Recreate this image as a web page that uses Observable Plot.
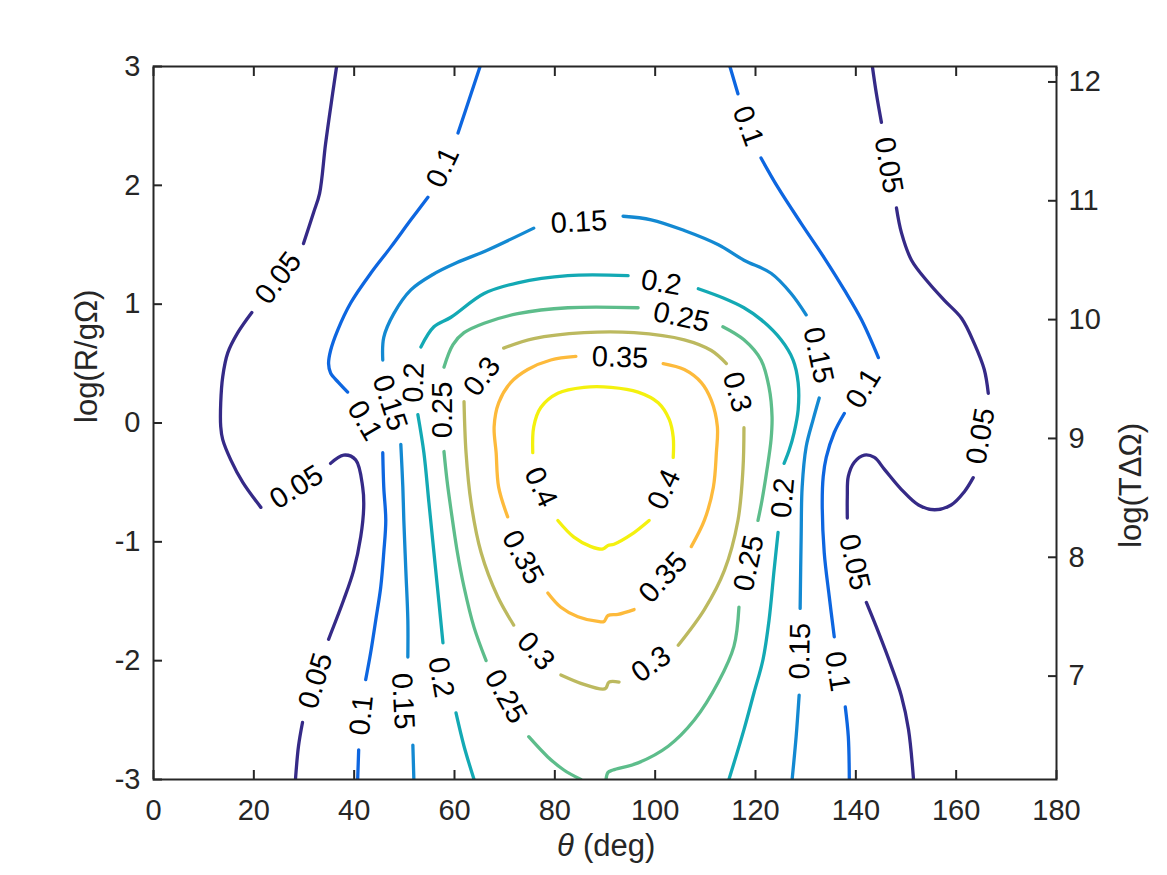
<!DOCTYPE html>
<html><head><meta charset="utf-8">
<script src="https://cdn.jsdelivr.net/npm/d3@7"></script>
<script src="https://cdn.jsdelivr.net/npm/@observablehq/plot@0.6"></script>
<style>html,body{margin:0;padding:0;background:#fff;}</style>
</head><body><div id="chart"></div>
<script>
// ---- data ----
const levels = [0.05, 0.1, 0.15, 0.2, 0.25, 0.3, 0.35, 0.4];
const levelText = ["0.05", "0.1", "0.15", "0.2", "0.25", "0.3", "0.35", "0.4"];
const levelColors = ["#352a87", "#0d66e0", "#1389d2", "#13a9b4", "#5dbd8b", "#bcb95f", "#fdba3b", "#f4f10e"];

const xTicks = [0, 20, 40, 60, 80, 100, 120, 140, 160, 180];
const yTicks = [-3, -2, -1, 0, 1, 2, 3];
const rightTicks = [7, 8, 9, 10, 11, 12];
const rightOffset = 9.13; // log(TΔΩ) = log(R/gΩ) + offset

// contour segments: [theta (deg), log(R/gΩ)]
const c005 = [
  [[36.5,3.0],[35.7,2.77],[34.3,2.35],[33.1,1.93],[31.9,1.77],[29.9,1.51]],
  [[19.6,0.93],[16.8,0.76],[14.8,0.59],[13.8,0.39],[13.4,0.17],[13.4,-0.03],[13.8,-0.14],[15.4,-0.31],[17.8,-0.50],[21.4,-0.71]],
  [[35.3,-0.34],[37.9,-0.27],[40.3,-0.31],[41.7,-0.54],[41.9,-0.71],[41.3,-0.96],[39.9,-1.24],[37.9,-1.49],[34.9,-1.82]],
  [[29.7,-2.52],[28.9,-2.72],[28.3,-3.0]],
  [[143.3,3.0],[144.1,2.77],[145.1,2.53]],
  [[148.1,1.81],[149.1,1.60],[151.1,1.37],[154.5,1.18],[157.7,1.03],[161.1,0.88],[163.6,0.67],[165.6,0.45],[166.4,0.25]],
  [[163.4,-0.46],[161.6,-0.58],[159.0,-0.69],[155.7,-0.73],[152.5,-0.69],[149.1,-0.56],[145.7,-0.39],[143.7,-0.29],[141.7,-0.27],[139.7,-0.33],[138.5,-0.45],[138.3,-0.62],[138.3,-0.80]],
  [[142.1,-1.51],[144.5,-1.76],[147.1,-2.05],[149.1,-2.30],[150.5,-2.58],[151.5,-3.0]]
];
const c010 = [
  [[65.1,3.0],[63.3,2.77],[60.7,2.44]],
  [[54.7,1.90],[51.3,1.71],[47.3,1.48],[43.3,1.26],[39.3,1.01],[36.7,0.78],[35.3,0.61],[34.9,0.50],[35.3,0.42],[36.9,0.34],[38.7,0.26]],
  [[45.7,-0.25],[45.9,-0.54],[46.3,-0.82],[45.9,-1.09],[45.3,-1.38],[44.3,-1.66],[43.3,-1.93],[42.3,-2.16]],
  [[40.9,-2.75],[40.7,-3.0]],
  [[114.9,3.0],[116.5,2.77]],
  [[121.1,2.23],[124.5,1.98],[129.1,1.68],[133.7,1.39],[137.7,1.12],[141.1,0.87],[144.5,0.55]],
  [[137.7,0.08],[135.7,-0.08],[134.1,-0.29],[133.5,-0.45],[133.3,-0.67],[133.7,-1.09],[134.7,-1.46],[135.7,-1.80]],
  [[137.9,-2.39],[138.5,-2.64],[138.7,-3.0]]
];
const c015 = [
  [[51.9,-3.0],[51.7,-2.71]],
  [[50.7,-1.97],[50.7,-1.66],[50.3,-1.24],[49.9,-0.82],[49.7,-0.54],[49.3,-0.18]],
  [[45.7,0.53],[45.9,0.72],[47.9,0.92],[51.3,1.12],[55.7,1.25],[60.5,1.35],[66.3,1.45],[75.8,1.64]],
  [[93.6,1.74],[99.2,1.71],[105.8,1.62],[112.6,1.50],[117.7,1.37],[123.1,1.26],[127.1,1.09],[130.1,0.91]],
  [[132.7,0.21],[131.5,0.03],[130.1,-0.20],[129.3,-0.54],[129.1,-0.96],[128.9,-1.56]],
  [[128.7,-2.29],[128.1,-2.64],[127.3,-3.0]]
];
const c020 = [
  [[63.9,-3.0],[61.9,-2.72],[60.3,-2.44]],
  [[57.7,-1.85],[56.9,-1.51],[55.9,-1.09],[54.9,-0.67],[53.9,-0.25],[52.7,0.07]],
  [[53.3,0.64],[55.9,0.81],[59.3,0.89],[65.9,1.09],[72.6,1.18],[82.6,1.24],[94.6,1.24]],
  [[108.6,1.13],[113.7,1.05],[117.7,0.97],[121.1,0.87],[125.1,0.70],[127.5,0.53],[128.5,0.34],[128.5,0.11],[127.7,-0.08],[126.7,-0.23],[125.7,-0.34]],
  [[124.5,-0.92],[123.7,-1.24],[122.7,-1.66],[121.5,-1.99],[119.7,-2.27],[117.7,-2.58],[114.7,-3.0]]
];
const c025 = [
  [[57.9,-0.24],[58.5,-0.48],[59.3,-0.73],[60.5,-1.07],[61.9,-1.38],[63.9,-1.72],[66.3,-2.0]],
  [[74.8,-2.64],[78.6,-2.81],[81.8,-2.92],[85.2,-3.0]],
  [[90.2,-3.0],[90.6,-2.94],[91.6,-2.92],[96.6,-2.86],[102.6,-2.72],[107.8,-2.50],[112.6,-2.18],[115.7,-1.88],[116.7,-1.55]],
  [[120.5,-0.82],[121.3,-0.65],[122.3,-0.39],[123.1,-0.14],[123.3,0.05],[122.7,0.30],[121.1,0.53],[117.7,0.70],[113.5,0.81]],
  [[96.6,0.97],[82.6,0.97],[72.6,0.92],[65.9,0.84],[61.9,0.76],[59.7,0.66],[57.9,0.47]]
];
const c030 = [
  [[69.8,0.63],[75.8,0.71],[85.8,0.76],[95.8,0.76],[105.8,0.70],[111.2,0.61],[114.2,0.50]],
  [[117.7,-0.04],[117.5,-0.39],[116.5,-0.82],[113.8,-1.24],[109.8,-1.57],[104.6,-1.87]],
  [[92.8,-2.18],[90.8,-2.18],[90.2,-2.23],[89.6,-2.24],[85.8,-2.20],[81.2,-2.12]],
  [[71.8,-1.70],[68.6,-1.46],[65.3,-1.09],[63.3,-0.67],[62.3,-0.25],[61.9,0.18]]
];
const c035 = [
  [[84.2,0.56],[79.2,0.53],[74.6,0.45],[71.2,0.34],[68.8,0.17],[67.9,-0.03],[68.3,-0.25],[68.8,-0.54],[70.6,-0.79]],
  [[78.6,-1.43],[81.2,-1.55],[84.6,-1.63],[88.6,-1.67],[89.8,-1.67],[90.6,-1.62],[92.6,-1.61],[95.8,-1.57]],
  [[107.2,-1.04],[109.8,-0.82],[111.6,-0.54],[112.2,-0.25],[112.4,-0.03],[111.2,0.19],[109.2,0.34],[105.8,0.45],[101.6,0.50]]
];
const c040 = [
  [[98.8,-0.82],[95.2,-0.94],[91.8,-1.02],[90.6,-1.03],[89.6,-1.06],[87.2,-1.04],[83.8,-0.96],[80.6,-0.82]],
  [[75.6,-0.25],[75.8,-0.03],[77.2,0.13],[80.6,0.25],[85.8,0.30],[91.2,0.30],[96.6,0.26],[100.6,0.17],[102.8,0.03],[103.6,-0.12],[103.6,-0.29]]
];
const contours = [c005, c010, c015, c020, c025, c030, c035, c040];

// inline contour labels: [theta, log(R/gΩ), text angle]
const l005 = [[24.9,1.22,-53],[28.5,-0.54,-32],[32.3,-2.17,-73],[146.5,2.17,80],[164.9,-0.11,-80],[139.7,-1.17,77]];
const l010 = [[57.7,2.15,-65],[42.1,0.02,60],[41.5,-2.46,-84],[118.5,2.50,70],[141.5,0.29,-59],[136.3,-2.09,81]];
const l015 = [[49.7,-2.34,87],[47.1,0.17,72],[84.8,1.69,-3],[132.5,0.57,78],[128.9,-1.92,-89]];
const l020 = [[57.3,-2.14,80],[51.9,0.34,-88],[101.2,1.18,10],[125.5,-0.63,-85]];
const l025 = [[70.2,-2.30,61],[118.7,-1.18,-78],[105.2,0.89,12],[57.7,0.11,-90]];
const l030 = [[116.3,0.26,74],[99.2,-2.03,-35],[76.2,-1.92,48],[65.5,0.39,-53]];
const l035 = [[73.6,-1.13,62],[101.6,-1.30,-48],[93.0,0.55,2]];
const l040 = [[77.2,-0.54,65],[101.8,-0.56,-65]];
const contourLabels = [l005, l010, l015, l020, l025, l030, l035, l040];

// ---- build tables ----
const lineRows = [];
contours.forEach((segs, i) => segs.forEach((seg, j) => seg.forEach(([t, r]) =>
  lineRows.push({theta: t, logR: r, level: levels[i], seg: i + "-" + j}))));
const labelRows = [];
contourLabels.forEach((labs, i) => labs.forEach(([t, r, a]) =>
  labelRows.push({theta: t, logR: r, angle: a, text: levelText[i]})));

const ink = "#262626";
const font = "'Liberation Sans', Arial, Helvetica, sans-serif";

const chart = Plot.plot({
  width: 1167,
  height: 875,
  marginLeft: 153,
  marginRight: 111,
  marginTop: 66,
  marginBottom: 96,
  style: {fontFamily: font, fontSize: "29px", background: "#fff", color: ink},
  x: {domain: [0, 180]},
  y: {domain: [-3, 3]},
  color: {type: "ordinal", domain: levels, range: levelColors},
  marks: [
    Plot.line(lineRows, {x: "theta", y: "logR", z: "seg", stroke: "level", strokeWidth: 3.3, curve: "catmull-rom", clip: true}),
    Plot.text(labelRows, {x: "theta", y: "logR", text: "text", rotate: "angle", fontSize: 29, fill: "#000"}),
    Plot.frame({stroke: ink, strokeWidth: 2}),
    Plot.axisX(xTicks, {anchor: "bottom", tickSize: -9, tickPadding: 29, strokeWidth: 2, color: ink, fontSize: 29, tickFormat: d => String(d), label: null}),
    Plot.axisX(xTicks, {anchor: "top", tickSize: -9, strokeWidth: 2, color: ink, tickFormat: () => "", label: null}),
    Plot.axisY(yTicks, {anchor: "left", tickSize: -9, tickPadding: 22, strokeWidth: 2, color: ink, fontSize: 29, tickFormat: d => String(d), label: null}),
    Plot.axisY(rightTicks.map(t => t - rightOffset), {anchor: "right", tickSize: -9, tickPadding: 21, strokeWidth: 2, color: ink, fontSize: 29, tickFormat: d => String(Math.round(d + rightOffset)), label: null}),
    Plot.text(["θ"], {frameAnchor: "bottom", dy: 76, dx: -48, textAnchor: "start", fontStyle: "italic", fontSize: 31, fill: ink}),
    Plot.text(["(deg)"], {frameAnchor: "bottom", dy: 76, dx: -22, textAnchor: "start", fontSize: 31, fill: ink}),
    Plot.text(["log(R/gΩ)"], {frameAnchor: "left", dx: -66, rotate: -90, fontSize: 31, fill: ink}),
    Plot.text(["log(TΔΩ)"], {frameAnchor: "right", dx: 75, rotate: -90, fontSize: 31, fill: ink})
  ]
});
document.getElementById("chart").appendChild(chart);
</script></body></html>
